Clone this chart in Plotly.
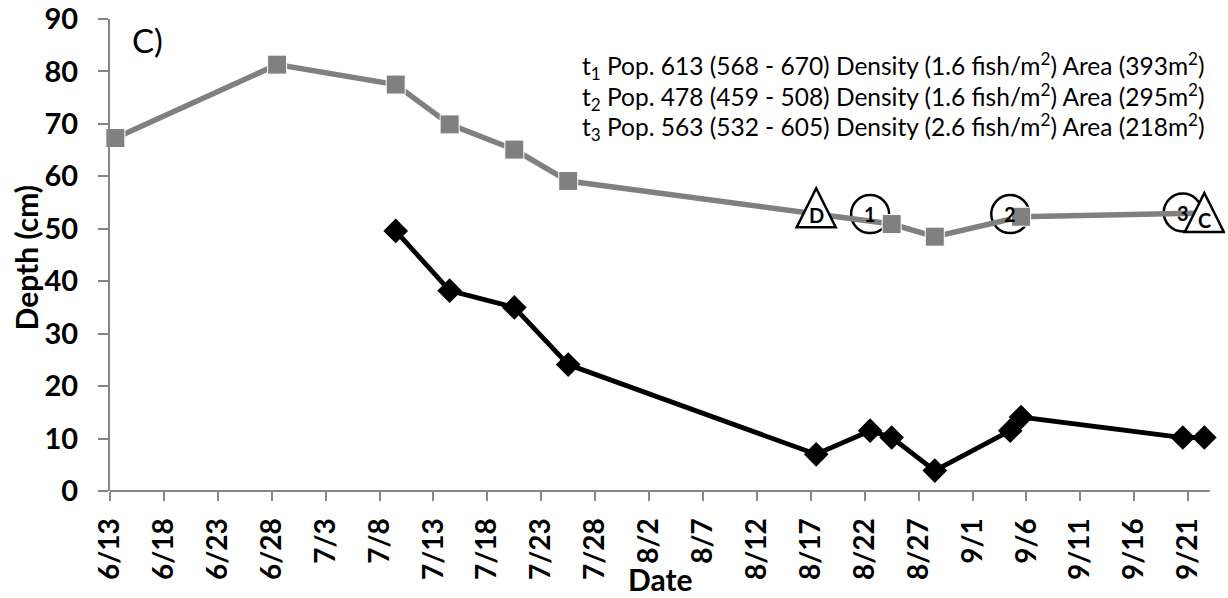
import pandas as pd
import plotly.graph_objects as go

SEASON_YEAR = 2013

# Axis ticks (month/day), every 5 days
tick_dates = ["6/13", "6/18", "6/23", "6/28", "7/3", "7/8", "7/13", "7/18", "7/23",
              "7/28", "8/2", "8/7", "8/12", "8/17", "8/22", "8/27", "9/1", "9/6",
              "9/11", "9/16", "9/21"]
axis_start, axis_end = "6/13", "9/23"

# Upper series (grey squares)
grey_dates = ["6/13", "6/28", "7/9", "7/14", "7/20", "7/25", "8/24", "8/28", "9/5", "9/22"]
grey_depth = [67.3, 81.3, 77.5, 69.9, 65.1, 59.1, 50.9, 48.5, 52.3, 53.0]

# Lower series (black diamonds)
black_dates = ["7/9", "7/14", "7/20", "7/25", "8/17", "8/22", "8/24", "8/28",
               "9/4", "9/5", "9/20", "9/22"]
black_depth = [49.6, 38.2, 35.0, 24.1, 7.0, 11.5, 10.2, 3.9, 11.5, 14.1, 10.2, 10.2]

# Event marks drawn along the upper line
event_labels = ["D", "1", "2", "3", "C"]
event_dates = ["8/17", "8/22", "9/4", "9/20", "9/22"]
event_depth = [54.0, 52.8, 52.8, 53.1, 53.1]
event_kind = ["triangle", "circle", "circle", "circle", "triangle"]

# Population estimate lines
estimate_lines = [
    "t<sub>1</sub> Pop. 613 (568 - 670) Density (1.6 fish/m<sup>2</sup>) Area (393m<sup>2</sup>)",
    "t<sub>2</sub> Pop. 478 (459 - 508) Density (1.6 fish/m<sup>2</sup>) Area (295m<sup>2</sup>)",
    "t<sub>3</sub> Pop. 563 (532 - 605) Density (2.6 fish/m<sup>2</sup>) Area (218m<sup>2</sup>)",
]


def day(md):
    m, d = md.split("/")
    return pd.Timestamp(year=SEASON_YEAR, month=int(m), day=int(d))


def mid(md):
    # each observation sits in the middle of its day slot
    return day(md) + pd.Timedelta(hours=12)


FONT = "Lato, 'Open Sans', sans-serif"
AXIS_GREY = "#868686"
GREY = "#808080"

# the last grey reading sits under the "C" triangle, so it carries no marker
grey_marker_size = [19] * (len(grey_depth) - 1) + [0]

fig = go.Figure()

fig.add_trace(go.Scatter(
    x=[mid(d) for d in black_dates], y=black_depth, mode="lines+markers",
    line=dict(color="black", width=4.8),
    marker=dict(symbol="diamond", size=19, color="black", opacity=1),
    showlegend=False, cliponaxis=False,
))
fig.add_trace(go.Scatter(
    x=[mid(d) for d in grey_dates], y=grey_depth, mode="lines+markers",
    line=dict(color=GREY, width=5.5),
    marker=dict(symbol="square", size=grey_marker_size, color=GREY, opacity=1),
    showlegend=False, cliponaxis=False,
))

# horizontal axis line stops at the end of the date range; the plot area runs a
# little further so the last triangle is not cut
shapes = [dict(
    type="line", xref="x", yref="paper",
    x0=day(axis_start), x1=day(axis_end), y0=0, y1=0,
    line=dict(color=AXIS_GREY, width=2), layer="above",
)]
annotations = []
for lab, d, v, kind in zip(event_labels, event_dates, event_depth, event_kind):
    anchor_x = mid(d).isoformat()
    if kind == "circle":
        shapes.append(dict(
            type="circle", xref="x", yref="y", xsizemode="pixel", ysizemode="pixel",
            xanchor=anchor_x, yanchor=v, x0=-19, x1=19, y0=-19, y1=19,
            line=dict(color="black", width=2.5), fillcolor="rgba(0,0,0,0)", layer="below",
        ))
        yshift = 0
    else:
        shapes.append(dict(
            type="path", xref="x", yref="y", xsizemode="pixel", ysizemode="pixel",
            xanchor=anchor_x, yanchor=v,
            path="M-19.5,-19.5 L19.5,-19.5 L0,19.5 Z",
            line=dict(color="black", width=2.5), fillcolor="white", layer="above",
        ))
        yshift = -7
    annotations.append(dict(
        x=anchor_x, y=v, xref="x", yref="y", text=lab, showarrow=False,
        yshift=yshift, font=dict(family=FONT, size=20, color="black", weight="bold"),
    ))

# Panel letter
annotations.append(dict(
    x=0.0336, y=0.9555, xref="paper", yref="paper", text="C)", showarrow=False,
    xanchor="center", yanchor="middle", font=dict(family=FONT, size=33, color="black"),
))

# Population estimate block
for txt, yy in zip(estimate_lines, [0.9004, 0.8347, 0.7712]):
    annotations.append(dict(
        x=0.4215, y=yy, xref="paper", yref="paper", text=txt, showarrow=False,
        xanchor="left", yanchor="middle", font=dict(family=FONT, size=24.5, color="black"),
    ))

# Axis titles
annotations.append(dict(
    x=0.4933, y=-0.1864, xref="paper", yref="paper", text="Date", showarrow=False,
    xanchor="center", yanchor="middle",
    font=dict(family=FONT, size=30, color="black", weight="bold"),
))
annotations.append(dict(
    x=-0.0758, y=0.4958, xref="paper", yref="paper", text="Depth (cm)", showarrow=False,
    textangle=-90, xanchor="center", yanchor="middle",
    font=dict(family=FONT, size=30, color="black", weight="bold"),
))

fig.update_layout(
    width=1228, height=598,
    margin=dict(l=110, r=3, t=19, b=107),
    plot_bgcolor="white", paper_bgcolor="white",
    shapes=shapes, annotations=annotations,
    xaxis=dict(
        type="date", range=[day(axis_start), day("9/24") + pd.Timedelta(hours=10)],
        automargin=False,
        tickmode="array", tickvals=[day(t) for t in tick_dates], ticktext=tick_dates,
        tickangle=-90, ticks="outside", ticklen=9, tickwidth=1.5, tickcolor=AXIS_GREY,
        showline=False, showgrid=False, zeroline=False, ticklabelstandoff=6,
        ticklabeloverflow="allow",
        tickfont=dict(family=FONT, size=28, color="black", weight="bold"),
    ),
    yaxis=dict(
        range=[0, 90], tickmode="linear", tick0=0, dtick=10, automargin=False,
        ticks="outside", ticklen=10, tickwidth=1.5, tickcolor=AXIS_GREY,
        showline=True, linecolor=AXIS_GREY, linewidth=2,
        showgrid=False, zeroline=False, ticklabelstandoff=14,
        ticklabeloverflow="allow",
        tickfont=dict(family=FONT, size=29, color="black", weight="bold"),
    ),
)

fig.write_html("out.html")
